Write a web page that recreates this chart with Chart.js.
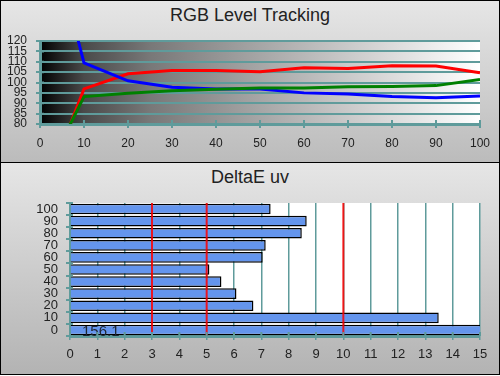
<!DOCTYPE html>
<html>
<head>
<meta charset="utf-8">
<script src="https://cdn.jsdelivr.net/npm/chart.js@4/dist/chart.umd.min.js"></script>
<style>
  body { margin: 0; }
  #frame { position: relative; width: 500px; height: 376px; overflow: hidden; background: #fff; }
  .panel { position: absolute; left: 0; width: 500px; box-sizing: border-box; border: 1px solid #000; }
  #panelTop { top: 0; height: 164px; background: linear-gradient(#e6e6e6, #bbbbbb); }
  #panelBottom { top: 162px; height: 213px; background: linear-gradient(#e6e6e6, #b3b3b3); }
  .title { position: absolute; left: 0; width: 500px; text-align: center; font: 18px Arial, "Liberation Sans", sans-serif; color: #222; line-height: 22px; }
  canvas { position: absolute; left: 0; }
</style>
</head>
<body>
<div id="frame">
  <div class="panel" id="panelTop"></div>
  <div class="panel" id="panelBottom"></div>
  <div class="title" style="top:4px">RGB Level Tracking</div>
  <div class="title" style="top:166px">DeltaE uv</div>
  <canvas id="levels" width="500" height="163" style="top:0"></canvas>
  <canvas id="deltaE" width="500" height="212" style="top:164px"></canvas>
</div>
<script>
// RGB level tracking (% stimulus vs %)
const levels = [5, 10, 20, 30, 40, 50, 60, 70, 80, 90, 100];
const redLevels = [69.6, 96.9, 104.2, 105.8, 105.8, 105.2, 107.1, 106.8, 108.1, 107.9, 104.7];
const greenLevels = [71.9, 93.2, 94.8, 96.0, 96.8, 97.3, 97.4, 97.9, 98.1, 98.5, 101.5];
const blueLevels = [150, 109.5, 100.8, 97.7, 96.9, 96.9, 95.0, 94.5, 93.2, 92.7, 93.5];

// DeltaE uv per grey level
const greyLabels = ['100', '90', '80', '70', '60', '50', '40', '30', '20', '10', '0'];
const deltaEValues = [7.34, 8.66, 8.48, 7.16, 7.05, 5.10, 5.54, 6.09, 6.71, 13.49, 156.1];
const thresholds = [3, 5, 10];

const teal = '#5f9b9b';
Chart.defaults.font.family = 'Arial, "Liberation Sans", sans-serif';
Chart.defaults.color = '#222';

// fills the plot area before anything else is drawn
const plotBackground = {
    id: 'plotBackground',
    beforeDraw(chart, args, opts) {
        const { ctx, chartArea: a } = chart;
        ctx.save();
        if (opts.gradient) {
            const g = ctx.createLinearGradient(a.left, 0, a.right, 0);
            g.addColorStop(0, '#000');
            g.addColorStop(0.1, '#4a4a4a');
            g.addColorStop(0.25, '#787878');
            g.addColorStop(0.5, '#a6a6a6');
            g.addColorStop(0.75, '#d2d2d2');
            g.addColorStop(1, '#fff');
            ctx.fillStyle = g;
        } else {
            ctx.fillStyle = '#fff';
        }
        ctx.fillRect(a.left, a.top, a.right - a.left, a.bottom - a.top);
        ctx.restore();
    }
};

// tick marks that cross the axis line into the plot
const innerTicks = {
    id: 'innerTicks',
    afterDraw(chart) {
        const { ctx, chartArea: a, scales } = chart;
        ctx.save();
        ctx.strokeStyle = teal;
        ctx.lineWidth = 2;
        ctx.beginPath();
        scales.x.ticks.forEach((t, i) => {
            const x = scales.x.getPixelForTick(i);
            ctx.moveTo(x, a.bottom);
            ctx.lineTo(x, a.bottom - 4);
        });
        const y = scales.y;
        if (y.type === 'category') {
            const step = y.getPixelForTick(1) - y.getPixelForTick(0);
            for (let i = 0; i <= y.ticks.length; i++) {
                const py = y.getPixelForTick(0) + (i - 0.5) * step;
                ctx.moveTo(a.left, py);
                ctx.lineTo(a.left + 3, py);
            }
        } else {
            y.ticks.forEach((t, i) => {
                const py = y.getPixelForTick(i);
                ctx.moveTo(a.left, py);
                ctx.lineTo(a.left + 4, py);
            });
        }
        ctx.stroke();
        ctx.restore();
    }
};

// red limit lines over the bars and the value of the off-scale bar
const limitLines = {
    id: 'limitLines',
    afterDatasetsDraw(chart) {
        const { ctx, chartArea: a, scales } = chart;
        ctx.save();
        ctx.strokeStyle = 'rgba(255, 0, 0, 0.85)';
        ctx.lineWidth = 2;
        thresholds.forEach(t => {
            const x = scales.x.getPixelForValue(t);
            ctx.beginPath();
            ctx.moveTo(x, a.top);
            ctx.lineTo(x, a.bottom);
            ctx.stroke();
        });
        const meta = chart.getDatasetMeta(0);
        ctx.fillStyle = '#1e2633';
        ctx.font = '15px Arial, "Liberation Sans", sans-serif';
        ctx.textBaseline = 'middle';
        ctx.textAlign = 'left';
        meta.data.forEach((bar, i) => {
            if (deltaEValues[i] > scales.x.max) {
                ctx.fillText(deltaEValues[i].toFixed(1), a.left + 12, bar.y + 2);
            }
        });
        ctx.restore();
    }
};

function series(values, color) {
    return {
        data: levels.map((x, i) => ({ x: x, y: values[i] })),
        borderColor: color,
        borderWidth: 3,
        pointRadius: 0,
        tension: 0,
        fill: false
    };
}

new Chart(document.getElementById('levels'), {
    type: 'line',
    data: {
        datasets: [
            series(greenLevels, '#008000'),
            series(blueLevels, '#0000ff'),
            series(redLevels, '#ff0000')
        ]
    },
    options: {
        responsive: false,
        animation: false,
        layout: { padding: { top: 41, right: 20, left: 0, bottom: 0 } },
        plugins: {
            legend: { display: false },
            tooltip: { enabled: false },
            plotBackground: { gradient: true }
        },
        scales: {
            x: {
                type: 'linear',
                min: 0,
                max: 100,
                ticks: { stepSize: 10, padding: 8, font: { size: 12 } },
                grid: { drawOnChartArea: false, color: teal, lineWidth: 2, tickLength: 4 },
                border: { color: teal, width: 3 },
                afterFit: s => { s.height = 39; }
            },
            y: {
                min: 80,
                max: 120,
                ticks: { stepSize: 5, padding: 9, autoSkip: false, font: { size: 12 } },
                grid: { color: teal, lineWidth: 2, tickLength: 4 },
                border: { color: teal, width: 3 },
                afterFit: s => { s.width = 40; }
            }
        }
    },
    plugins: [plotBackground, innerTicks]
});

new Chart(document.getElementById('deltaE'), {
    type: 'bar',
    data: {
        labels: greyLabels,
        datasets: [{
            data: deltaEValues,
            backgroundColor: '#6495ed',
            borderColor: '#000',
            borderWidth: 1.5,
            barPercentage: 0.88,
            categoryPercentage: 1
        }]
    },
    options: {
        indexAxis: 'y',
        responsive: false,
        animation: false,
        layout: { padding: { top: 39, right: 20, left: 0, bottom: 0 } },
        plugins: {
            legend: { display: false },
            tooltip: { enabled: false },
            plotBackground: { gradient: false }
        },
        scales: {
            x: {
                min: 0,
                max: 15,
                ticks: { stepSize: 1, padding: 7, autoSkip: false, font: { size: 13 } },
                grid: { color: teal, lineWidth: 1.5, tickLength: 4 },
                border: { color: teal, width: 3 },
                afterFit: s => { s.height = 40; }
            },
            y: {
                ticks: { padding: 8, autoSkip: false, font: { size: 13 } },
                grid: { drawOnChartArea: false, color: teal, lineWidth: 2, tickLength: 4 },
                border: { color: teal, width: 2 },
                afterFit: s => { s.width = 70; }
            }
        }
    },
    plugins: [plotBackground, limitLines, innerTicks]
});
</script>
</body>
</html>
